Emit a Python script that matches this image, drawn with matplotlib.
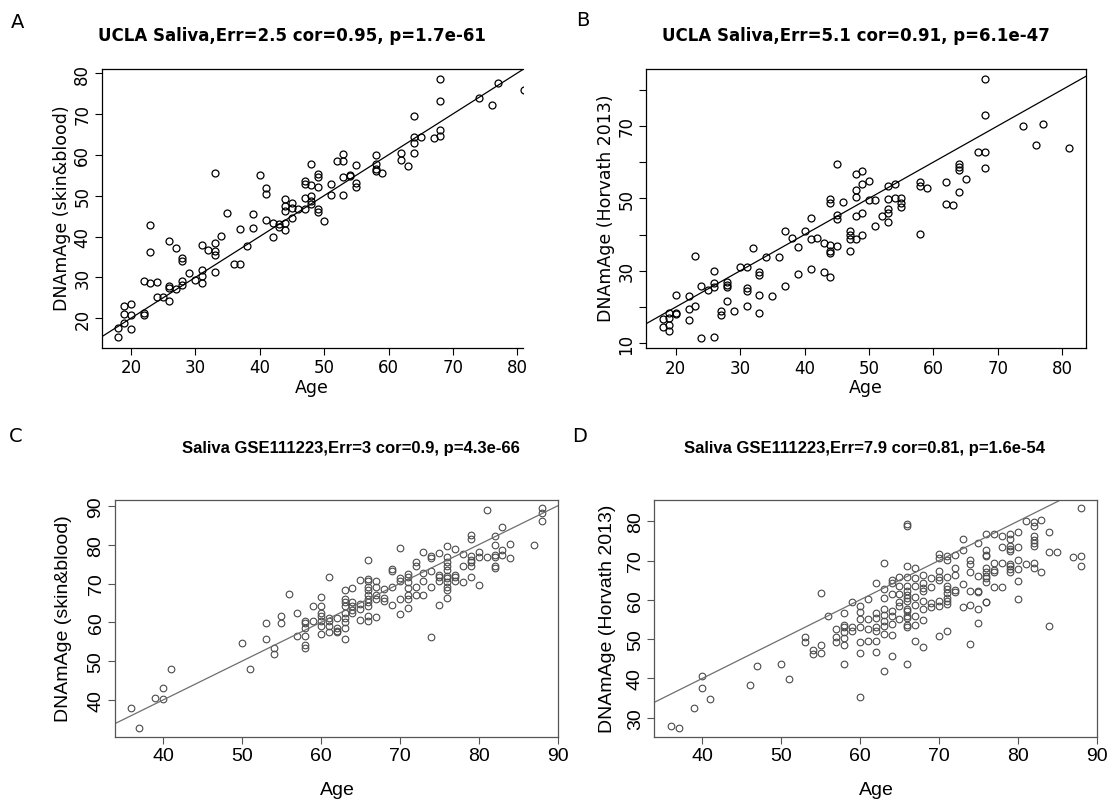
import matplotlib
matplotlib.use('Agg')
import matplotlib.pyplot as plt
from matplotlib.ticker import FixedLocator, FixedFormatter

# ---------------- data ----------------
age_A = [18, 18,
         19, 19, 19,
         20, 20, 20,
         22, 22, 22,
         23, 23, 23,
         24, 24,
         25,
         26, 26, 26, 26,
         27, 27,
         28, 28, 28, 28,
         29,
         30,
         31, 31, 31, 31,
         32,
         33, 33, 33, 33, 33,
         34,
         35,
         36,
         37, 37,
         38,
         39, 39,
         40,
         41, 41, 41,
         42, 42,
         43, 43,
         44, 44, 44, 44, 44,
         45, 45, 45,
         46,
         47, 47, 47, 47,
         48, 48, 48, 48, 48,
         49, 49, 49, 49, 49,
         50,
         51, 51,
         52,
         53, 53, 53, 53,
         54, 54,
         55, 55, 55,
         58, 58, 58, 58,
         59,
         62, 62,
         63,
         64, 64, 64, 64,
         65,
         67,
         68, 68, 68, 68,
         74,
         76,
         77,
         81]
dnam_A = [15.3, 17.6,
          18.8, 22.9, 21.1,
          23.5, 20.9, 17.3,
          20.9, 21.2, 29.0,
          42.9, 36.3, 28.6,
          28.8, 25.1,
          25.1,
          24.3, 27.8, 27.4, 39.0,
          27.1, 37.1,
          34.8, 33.9, 29.2, 28.2,
          31.1,
          29.4,
          31.8, 30.4, 28.6, 38.0,
          36.7,
          38.3, 36.5, 35.4, 55.5, 31.3,
          40.1,
          45.8,
          33.4,
          33.4, 41.8,
          37.7,
          42.2, 45.4,
          55.1,
          51.9, 50.4, 44.1,
          43.2, 39.8,
          43.0, 42.3,
          43.2, 41.7, 49.3, 47.5, 46.3,
          48.1, 46.9, 44.6,
          46.8,
          46.7, 49.4, 52.8, 53.6,
          57.7, 52.6, 50.0, 48.8, 47.9,
          55.3, 54.5, 52.2, 46.7, 46.0,
          43.7,
          52.8, 50.1,
          58.5,
          60.2, 58.5, 54.6, 50.2,
          55.0, 54.7,
          57.5, 53.1, 52.2,
          60.0, 57.7, 56.5, 56.0,
          55.6,
          60.4, 58.7,
          57.3,
          69.4, 64.4, 63.0, 60.5,
          64.3,
          64.0,
          66.0, 64.5, 73.2, 78.5,
          74.0,
          72.1,
          77.5,
          75.8]

age_B = [18, 18,
         19, 19, 19, 19,
         20, 20, 20,
         22, 22, 22,
         23, 23,
         24, 24,
         25,
         26, 26, 26, 26,
         27, 27,
         28, 28, 28, 28,
         29,
         30,
         31, 31, 31, 31,
         32,
         33, 33, 33, 33,
         34,
         35,
         36,
         37, 37,
         38,
         39, 39,
         40,
         41, 41, 41,
         42,
         43, 43,
         44, 44, 44, 44, 44, 44,
         45, 45, 45, 45,
         46,
         47, 47, 47, 47,
         48, 48, 48, 48, 48,
         49, 49, 49, 49,
         50, 50,
         51, 51,
         52,
         53, 53, 53, 53, 53,
         54, 54,
         55, 55, 55,
         58, 58, 58,
         59,
         62, 62,
         63,
         64, 64, 64, 64,
         65,
         67,
         68, 68, 68, 68,
         74,
         76,
         77,
         81]
dnam_B = [16.6, 14.6,
          18.3, 16.9, 15.1, 13.5,
          18.3, 18.0, 23.4,
          23.0, 19.4, 16.5,
          20.2, 34.0,
          25.7, 11.5,
          24.7,
          25.5, 26.7, 29.9, 11.8,
          19.0, 17.8,
          21.7, 26.9, 26.2, 25.5,
          19.0,
          31.0,
          31.0, 25.2, 24.3, 20.2,
          36.3,
          29.8, 28.9, 23.4, 18.3,
          33.9,
          23.1,
          33.9,
          25.7, 41.0,
          39.1,
          36.7, 29.1,
          41.0,
          44.5, 38.8, 30.4,
          39.0,
          37.6, 29.6,
          28.4, 37.0, 35.6, 35.0, 49.9, 48.7,
          36.9, 59.5, 45.5, 44.4,
          48.9,
          41.1, 39.9, 38.8, 35.6,
          38.8, 45.0, 56.8, 52.2, 50.3,
          57.5, 54.0, 45.9, 39.9,
          54.9, 49.6,
          49.6, 42.4,
          45.0,
          45.9, 47.1, 43.4, 53.5, 49.7,
          54.0, 50.1,
          50.1, 48.8, 47.7,
          54.5, 53.3, 40.2,
          52.9,
          54.5, 48.5,
          48.3,
          59.5, 58.6, 57.7, 51.7,
          55.4,
          62.9,
          62.9, 58.3, 72.9, 83.0,
          70.0,
          64.6,
          70.6,
          63.9]

age_C = [36, 37, 39, 40, 40, 41, 50, 51,
         53, 53,
         54, 54,
         55, 55,
         56,
         57, 57,
         58, 58, 58, 58, 58, 58,
         59, 59,
         60, 60, 60, 60, 60, 60, 60,
         61, 61, 61, 61, 61,
         62, 62, 62, 62,
         63, 63, 63, 63, 63, 63, 63, 63, 63,
         64, 64, 64, 64, 64,
         65, 65, 65, 65,
         66, 66, 66, 66, 66, 66, 66, 66, 66, 66, 66,
         67, 67, 67, 67, 67,
         68, 68, 68,
         69, 69, 69, 69,
         70, 70, 70, 70, 70,
         71, 71, 71, 71, 71, 71, 71,
         72, 72, 72, 72,
         73, 73, 73, 73,
         74, 74, 74, 74, 74,
         75, 75, 75, 75, 75,
         76, 76, 76, 76, 76, 76, 76, 76, 76, 76, 76,
         77, 77, 77, 77,
         78, 78, 78,
         79, 79, 79, 79, 79, 79, 79,
         80, 80, 80,
         81, 81,
         82, 82, 82, 82, 82, 82,
         83, 83, 83,
         84, 84,
         87,
         88, 88, 88]
dnam_C = [37.9, 32.7, 40.6, 40.3, 43.1, 47.9, 54.8, 47.9,
          59.8, 55.6,
          53.3, 51.8,
          61.7, 59.9,
          67.2,
          62.3, 56.6,
          60.4, 59.8, 58.5, 56.6, 54.2, 53.3,
          64.3, 60.4,
          66.4, 64.3, 62.4, 61.7, 60.4, 59.0, 56.9,
          71.8, 61.1, 60.4, 59.0, 57.6,
          61.1, 58.5, 57.8, 57.4,
          68.2, 66.0, 65.3, 64.3, 62.4, 61.1, 60.0, 58.5, 55.7,
          68.8, 65.3, 64.3, 63.3, 62.4,
          70.9, 64.7, 63.4, 60.7,
          76.1, 71.2, 70.6, 69.0, 68.2, 67.0, 66.0, 65.2, 64.1, 61.7, 60.4,
          70.7, 69.0, 67.0, 66.0, 61.3,
          68.6, 66.2, 65.6,
          73.7, 73.1, 69.0, 64.5,
          79.1, 71.4, 70.7, 66.0, 62.1,
          72.4, 71.8, 70.3, 68.8, 67.0, 66.0, 63.6,
          75.6, 74.4, 69.2, 67.0,
          78.2, 72.7, 70.6, 67.0,
          77.0, 76.5, 73.3, 69.0, 56.1,
          77.9, 72.2, 71.6, 70.6, 64.5,
          79.6, 76.7, 75.6, 74.6, 73.6, 72.0, 71.3, 70.5, 69.0, 68.4, 66.3,
          78.9, 72.2, 71.6, 70.7,
          77.6, 74.6, 70.3,
          82.5, 81.5, 77.0, 76.1, 75.5, 74.6, 71.6,
          78.0, 76.7, 69.6,
          88.9, 76.7,
          82.3, 79.9, 77.3, 76.7, 74.6, 73.9,
          84.5, 78.5, 77.3,
          80.2, 76.5,
          79.9,
          89.4, 88.1, 86.2]

age_D = [36, 37, 39, 40, 40, 41, 46, 47, 50, 51,
         53, 53,
         54, 54,
         55, 55, 55,
         56,
         57, 57, 57,
         58, 58, 58, 58, 58, 58, 58,
         59, 59, 59,
         60, 60, 60, 60, 60, 60, 60,
         61, 61, 61, 61,
         62, 62, 62, 62, 62, 62, 62,
         63, 63, 63, 63, 63, 63, 63, 63, 63,
         64, 64, 64, 64, 64, 64, 64, 64,
         65, 65, 65, 65, 65, 65,
         66, 66, 66, 66, 66, 66, 66, 66, 66, 66, 66, 66, 66, 66, 66, 66,
         67, 67, 67, 67, 67, 67, 67, 67,
         68, 68, 68, 68, 68, 68, 68, 68,
         69, 69, 69, 69,
         70, 70, 70, 70, 70, 70, 70, 70,
         71, 71, 71, 71, 71, 71, 71, 71, 71, 71,
         72, 72, 72, 72, 72,
         73, 73, 73, 73,
         74, 74, 74, 74, 74, 74,
         75, 75, 75, 75, 75, 75,
         76, 76, 76, 76, 76, 76, 76, 76, 76, 76, 76,
         77, 77, 77, 77, 77,
         78, 78, 78, 78,
         79, 79, 79, 79, 79, 79, 79, 79, 79,
         80, 80, 80, 80, 80, 80,
         81, 81,
         82, 82, 82, 82, 82, 82, 82, 82,
         83, 83,
         84, 84, 84,
         85,
         87,
         88, 88, 88]
dnam_D = [28.0, 27.4, 32.5, 40.5, 37.6, 34.8, 38.4, 43.2, 43.8, 39.8,
          50.6, 49.4,
          47.2, 46.2,
          61.7, 48.6, 46.5,
          55.9,
          52.6, 50.6, 49.2,
          56.6, 53.6, 53.0, 51.9, 50.2, 48.6, 43.6,
          59.4, 53.0, 52.1,
          58.5, 56.8, 55.1, 53.0, 49.2, 46.5, 35.3,
          60.2, 55.1, 52.6, 49.6,
          64.2, 56.6, 55.3, 53.0, 52.0, 49.6, 46.8,
          69.3, 62.8, 60.6, 57.8, 56.2, 54.7, 53.4, 51.3, 41.8,
          65.0, 64.2, 61.5, 57.2, 56.0, 53.9, 51.1, 45.8,
          65.7, 63.6, 61.5, 59.4, 58.5, 55.1,
          78.9, 79.2, 68.7, 65.7, 63.6, 62.3, 61.2, 60.6, 59.8, 57.8, 57.2, 56.0, 55.3, 53.6, 53.0, 43.8,
          68.1, 65.5, 63.6, 60.8, 58.7, 56.0, 53.6, 49.6,
          66.3, 64.4, 62.9, 62.3, 59.8, 57.8, 54.9, 47.9,
          65.5, 63.3, 59.2, 58.3,
          71.7, 70.6, 67.4, 65.9, 65.0, 59.8, 58.5, 50.9,
          71.1, 70.1, 65.7, 63.6, 62.8, 61.7, 60.4, 59.8, 58.9, 52.0,
          71.4, 68.1, 66.3, 62.6, 61.9,
          75.6, 72.8, 64.0, 58.3,
          70.2, 69.1, 67.0, 62.3, 58.7, 48.8,
          74.5, 66.0, 62.3, 62.1, 57.7, 54.1,
          76.7, 72.8, 71.4, 71.1, 68.0, 67.2, 66.1, 65.5, 64.6, 59.5, 59.4,
          76.7, 69.4, 67.7, 67.0, 63.2,
          76.3, 73.4, 69.4, 63.2,
          76.7, 75.6, 73.8, 72.9, 72.5, 69.1, 68.5, 67.8, 67.2,
          77.2, 73.4, 70.2, 67.8, 64.7, 60.2,
          80.0, 69.1,
          79.7, 78.7, 76.3, 75.3, 74.5, 73.6, 69.3, 68.0,
          80.4, 67.2,
          77.4, 72.1, 53.4,
          72.3,
          70.8,
          83.3, 71.1, 68.7]

titles = ["UCLA Saliva,Err=2.5 cor=0.95, p=1.7e-61",
          "UCLA Saliva,Err=5.1 cor=0.91, p=6.1e-47",
          "Saliva GSE111223,Err=3 cor=0.9, p=4.3e-66",
          "Saliva GSE111223,Err=7.9 cor=0.81, p=1.6e-54"]
ylabels = ["DNAmAge (skin&blood)", "DNAmAge (Horvath 2013)",
           "DNAmAge (skin&blood)", "DNAmAge (Horvath 2013)"]
xlabel = "Age"
letters = ["A", "B", "C", "D"]
xticks_AB = [20, 30, 40, 50, 60, 70, 80]
yticks_A = [20, 30, 40, 50, 60, 70, 80]
yticks_B = [10, 20, 30, 40, 50, 60, 70, 80]
yticklabels_B = ["10", "", "30", "", "50", "", "70", ""]
xticks_CD = [40, 50, 60, 70, 80, 90]
yticks_C = [40, 50, 60, 70, 80, 90]
yticks_D = [30, 40, 50, 60, 70, 80]
line_slope = 1.0   # identity line drawn in every panel

# ---------------- layout ----------------
W, H = 1110, 803
fig = plt.figure(figsize=(W / 100, H / 100), dpi=100)
fig.patch.set_facecolor('white')


def rect(l, r, t, b):
    return [l / W, 1 - b / H, (r - l) / W, (b - t) / H]


def ftext(x, y, s, **kw):
    fig.text(x / W, 1 - y / H, s, **kw)


def style(ax, family, size, col, xt, yt, ytl=None):
    ax.xaxis.set_major_locator(FixedLocator(xt))
    ax.xaxis.set_major_formatter(FixedFormatter([str(v) for v in xt]))
    ax.yaxis.set_major_locator(FixedLocator(yt))
    ax.yaxis.set_major_formatter(FixedFormatter(ytl if ytl else [str(v) for v in yt]))
    ax.tick_params(direction='out', length=5.0, width=0.8, color=col,
                   labelsize=size, pad=2.5, labelcolor='black')
    for lab in ax.get_xticklabels() + ax.get_yticklabels():
        lab.set_family(family)
    for lab in ax.get_yticklabels():
        lab.set_rotation(90)
        lab.set_va('center')
        lab.set_ha('right')
    for sp in ax.spines.values():
        sp.set_color(col)
        sp.set_linewidth(0.9)


panels = [
    dict(r=rect(101.7, 523, 70, 349), x=age_A, y=dnam_A, xl=(15.48, 80.87), yl=(12.73, 80.98),
         fam='DejaVu Sans', ts=12, col='black', pcol='black', lcol='black', ms=5.0, mew=0.9,
         xt=xticks_AB, yt=yticks_A, ytl=None, noright=True),
    dict(r=rect(645.7, 1085.7, 70, 349.3), x=age_B, y=dnam_B, xl=(15.34, 83.66), yl=(8.62, 85.71),
         fam='DejaVu Sans', ts=12, col='black', pcol='black', lcol='black', ms=5.0, mew=0.9,
         xt=xticks_AB, yt=yticks_B, ytl=yticklabels_B, noright=False),
    dict(r=rect(115, 558.3, 500.7, 737.7), x=age_C, y=dnam_C, xl=(33.92, 90.08), yl=(30.55, 91.58),
         fam='Liberation Sans', ts=14, col='#555555', pcol='#4a4a4a', lcol='#6e6e6e', ms=4.8, mew=0.8,
         xt=xticks_CD, yt=yticks_C, ytl=None, noright=False),
    dict(r=rect(654.3, 1097.3, 501, 737.7), x=age_D, y=dnam_D, xl=(33.92, 90.08), yl=(25.17, 85.42),
         fam='Liberation Sans', ts=14, col='#555555', pcol='#4a4a4a', lcol='#6e6e6e', ms=4.8, mew=0.8,
         xt=xticks_CD, yt=yticks_D, ytl=None, noright=False),
]

for p in panels:
    ax = fig.add_axes(p['r'])
    ax.plot(p['x'], p['y'], linestyle='none', marker='o', markersize=p['ms'],
            markerfacecolor='none', markeredgecolor=p['pcol'], markeredgewidth=p['mew'])
    ax.axline((0, 0), slope=line_slope, color=p['lcol'], linewidth=0.9)
    ax.set_xlim(*p['xl'])
    ax.set_ylim(*p['yl'])
    style(ax, p['fam'], p['ts'], p['col'], p['xt'], p['yt'], p['ytl'])
    if p['noright']:
        ax.spines['right'].set_visible(False)

# titles
ftext(292, 36, titles[0], ha='center', va='center', fontsize=12, fontweight='bold', family='DejaVu Sans')
ftext(856, 36, titles[1], ha='center', va='center', fontsize=12, fontweight='bold', family='DejaVu Sans')
ftext(351, 449, titles[2], ha='center', va='center', fontsize=12, fontweight='bold', family='Liberation Sans')
ftext(865, 449, titles[3], ha='center', va='center', fontsize=12, fontweight='bold', family='Liberation Sans')

# axis labels
ftext(312, 388, xlabel, ha='center', va='center', fontsize=12.5, family='DejaVu Sans')
ftext(866, 388, xlabel, ha='center', va='center', fontsize=12.5, family='DejaVu Sans')
ftext(337, 791, xlabel, ha='center', va='center', fontsize=14, family='Liberation Sans')
ftext(876, 791, xlabel, ha='center', va='center', fontsize=14, family='Liberation Sans')
ftext(62, 208, ylabels[0], ha='center', va='center', rotation=90, fontsize=12.5, family='DejaVu Sans')
ftext(606, 208, ylabels[1], ha='center', va='center', rotation=90, fontsize=12.5, family='DejaVu Sans')
ftext(63, 619, ylabels[2], ha='center', va='center', rotation=90, fontsize=14, family='Liberation Sans')
ftext(608, 619, ylabels[3], ha='center', va='center', rotation=90, fontsize=14, family='Liberation Sans')

# panel letters
ftext(18, 22, letters[0], ha='center', va='center', fontsize=14, family='DejaVu Sans')
ftext(583, 20, letters[1], ha='center', va='center', fontsize=14, family='DejaVu Sans')
ftext(16, 437, letters[2], ha='center', va='center', fontsize=14, family='DejaVu Sans')
ftext(580, 437, letters[3], ha='center', va='center', fontsize=14, family='DejaVu Sans')

fig.savefig('out.png', dpi=100, facecolor='white')
